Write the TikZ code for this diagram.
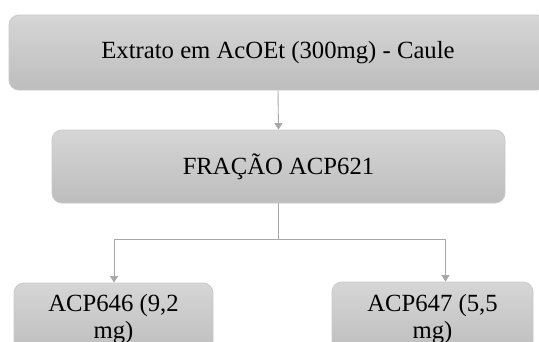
\documentclass[tikz,border=0pt]{standalone}
\usepackage{fontspec}
\setmainfont{Liberation Serif}
\usetikzlibrary{arrows.meta}
\definecolor{boxtop}{HTML}{D6D6D6}
\definecolor{boxbot}{HTML}{BDBDBD}
\definecolor{boxedge}{HTML}{C9C9C9}
\definecolor{linkgray}{HTML}{A8A8A8}
\begin{document}
\begin{tikzpicture}[x=1pt,y=-1pt,
  flowbox/.style={rectangle, rounded corners=10pt, draw=boxedge, line width=0.8pt,
    top color=boxtop, bottom color=boxbot, inner sep=0pt,
    font=\fontsize{24.7}{27.5}\selectfont, text=black, align=center},
  link/.style={draw=linkgray, line width=0.9pt},
  linkarrow/.style={link, -{Triangle[width=8pt,length=6.5pt]}}]
  \useasboundingbox (0,0) rectangle (539,341);
  \clip (0,0) rectangle (539,341);
  % boxes
  \node[flowbox, minimum width=538, minimum height=75] (extract) at (278,52.5)
    {Extrato em AcOEt (300mg) - Caule};
  \node[flowbox, minimum width=453, minimum height=73] (fraction) at (278.5,166.5)
    {FRAÇÃO ACP621};
  \node[flowbox, minimum width=199, minimum height=72] (left) at (113.5,319)
    {ACP646 (9,2\\mg)};
  \node[flowbox, minimum width=201, minimum height=74] (right) at (432.5,319)
    {ACP647 (5,5\\mg)};
  % connectors
  \draw[linkarrow] (extract.south) -- (fraction.north);
  \coordinate (split) at (278.5,239);
  \draw[link] (fraction.south) -- (split);
  \draw[linkarrow] (split) -| ([xshift=0.5pt]left.north);
  \draw[linkarrow] (split) -| ([xshift=13pt]right.north);
\end{tikzpicture}
\end{document}
